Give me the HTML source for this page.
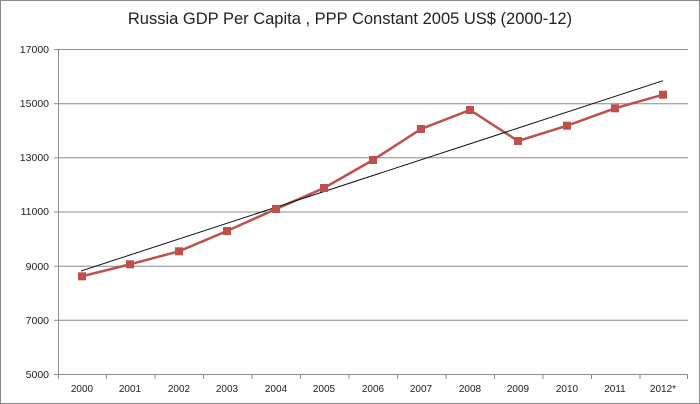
<!DOCTYPE html>
<html><head><meta charset="utf-8"><style>
html,body{margin:0;padding:0;background:#fff;}
svg{display:block;}
text{font-family:"Liberation Sans",sans-serif;fill:#222;}
</style></head><body>
<svg width="700" height="404" viewBox="0 0 700 404" xmlns="http://www.w3.org/2000/svg">
<rect x="0.5" y="0.5" width="699" height="403" fill="#fff" stroke="#8a8a8a"/>
<text x="350" y="24" font-size="16.5" text-anchor="middle" fill="#111">Russia GDP Per Capita , PPP Constant 2005 US$ (2000-12)</text>
<g stroke="#8c8c8c" stroke-width="1">
<line x1="58" y1="49.5" x2="688" y2="49.5"/>
<line x1="58" y1="103.7" x2="688" y2="103.7"/>
<line x1="58" y1="157.8" x2="688" y2="157.8"/>
<line x1="58" y1="212" x2="688" y2="212"/>
<line x1="58" y1="266.2" x2="688" y2="266.2"/>
<line x1="58" y1="320.3" x2="688" y2="320.3"/>
<line x1="58" y1="374.5" x2="688" y2="374.5"/>
<line x1="58.5" y1="49" x2="58.5" y2="379"/>
<line x1="54" y1="49.5" x2="58" y2="49.5"/>
<line x1="54" y1="103.7" x2="58" y2="103.7"/>
<line x1="54" y1="157.8" x2="58" y2="157.8"/>
<line x1="54" y1="212" x2="58" y2="212"/>
<line x1="54" y1="266.2" x2="58" y2="266.2"/>
<line x1="54" y1="320.3" x2="58" y2="320.3"/>
<line x1="54" y1="374.5" x2="58" y2="374.5"/>
</g>
<g font-size="10.5" text-anchor="end">
<text x="49" y="53">17000</text><text x="49" y="107">15000</text><text x="49" y="161">13000</text>
<text x="49" y="215">11000</text><text x="49" y="270">9000</text><text x="49" y="324">7000</text><text x="49" y="378">5000</text>
</g>
<g font-size="10" text-anchor="middle">
<text x="82" y="392">2000</text><text x="130" y="392">2001</text><text x="179" y="392">2002</text>
<text x="227" y="392">2003</text><text x="276" y="392">2004</text><text x="324" y="392">2005</text>
<text x="373" y="392">2006</text><text x="421" y="392">2007</text><text x="470" y="392">2008</text>
<text x="518" y="392">2009</text><text x="567" y="392">2010</text><text x="615" y="392">2011</text>
<text x="663" y="392">2012*</text>
</g>
<g stroke="#8c8c8c">
<line x1="106.5" y1="374" x2="106.5" y2="379"/><line x1="155" y1="374" x2="155" y2="379"/>
<line x1="203.5" y1="374" x2="203.5" y2="379"/><line x1="252" y1="374" x2="252" y2="379"/>
<line x1="300.5" y1="374" x2="300.5" y2="379"/><line x1="349" y1="374" x2="349" y2="379"/>
<line x1="397.5" y1="374" x2="397.5" y2="379"/><line x1="446" y1="374" x2="446" y2="379"/>
<line x1="494.5" y1="374" x2="494.5" y2="379"/><line x1="543" y1="374" x2="543" y2="379"/>
<line x1="591.5" y1="374" x2="591.5" y2="379"/><line x1="640" y1="374" x2="640" y2="379"/>
<line x1="687.5" y1="374" x2="687.5" y2="379"/>
</g>
<polyline fill="none" stroke="#c0504d" stroke-width="2.5" points="82,276.3 130,264.3 179,251.3 227,231 276,209 324,188 373,160 421,129 470,110 518,141 567,125.7 615,108.3 663,94.7"/>
<line x1="81" y1="271" x2="663" y2="80.7" stroke="#111" stroke-width="1"/>
<g fill="#c0504d">
<rect x="78" y="272.3" width="8" height="8"/><rect x="126" y="260.3" width="8" height="8"/>
<rect x="175" y="247.3" width="8" height="8"/><rect x="223" y="227" width="8" height="8"/>
<rect x="272" y="205" width="8" height="8"/><rect x="320" y="184" width="8" height="8"/>
<rect x="369" y="156" width="8" height="8"/><rect x="417" y="125" width="8" height="8"/>
<rect x="466" y="106" width="8" height="8"/><rect x="514" y="137" width="8" height="8"/>
<rect x="563" y="121.7" width="8" height="8"/><rect x="611" y="104.3" width="8" height="8"/>
<rect x="659" y="90.7" width="8" height="8"/>
</g>
</svg>
</body></html>
